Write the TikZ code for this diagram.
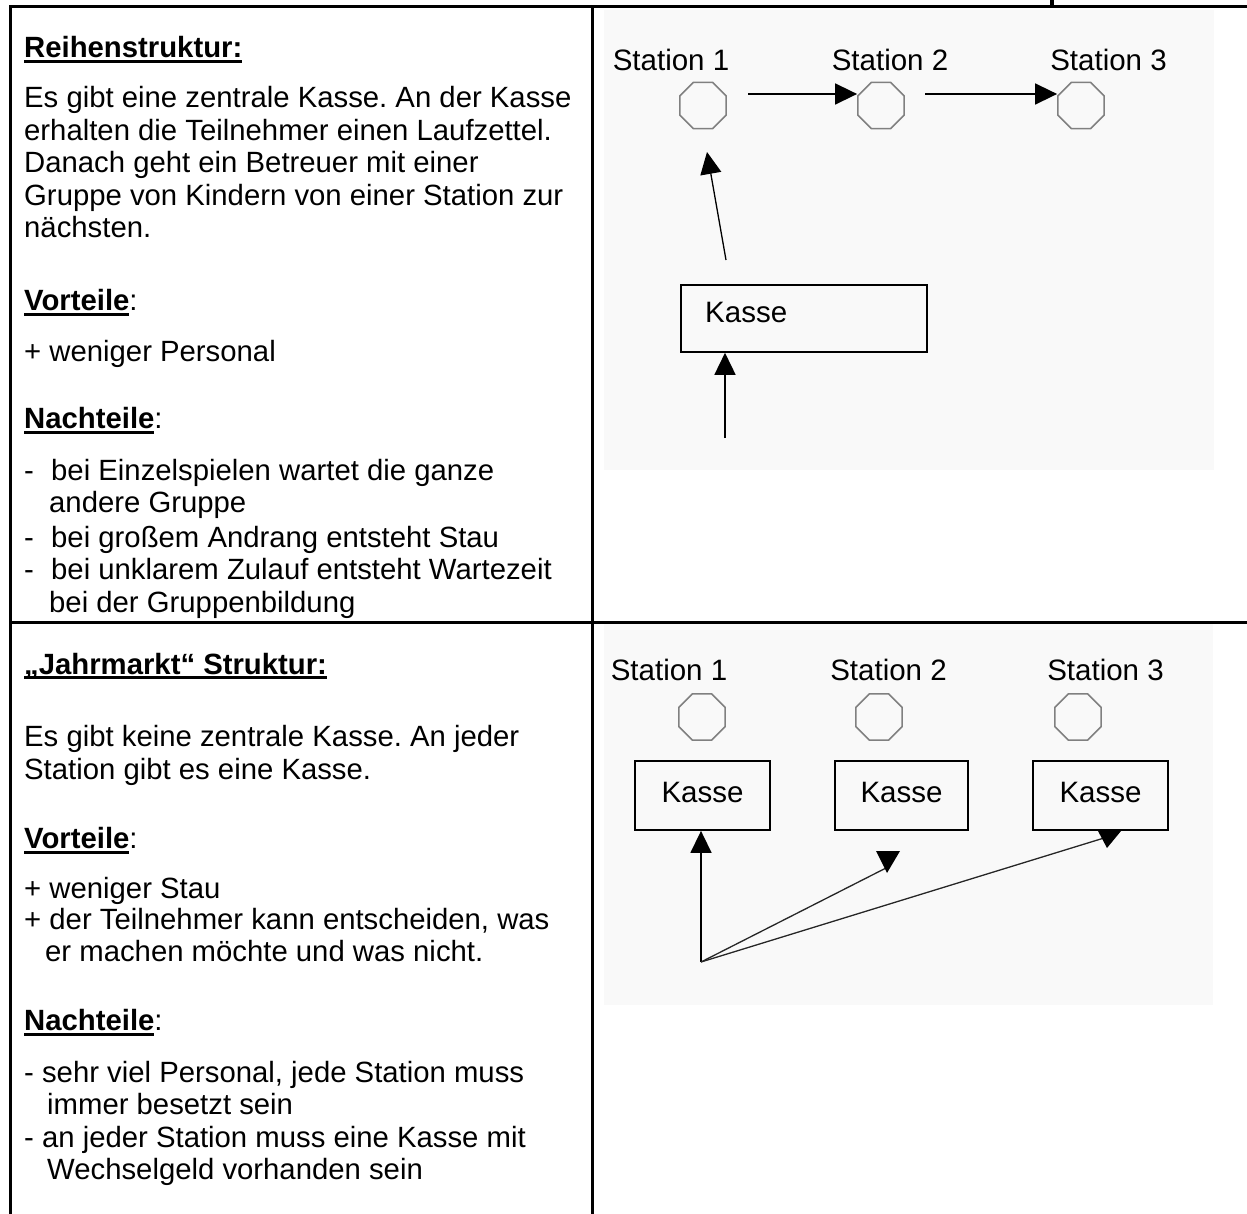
\documentclass[tikz,border=0pt]{standalone}
\usepackage{fontspec}
\setmainfont{Liberation Sans}
\usetikzlibrary{shapes.geometric,arrows.meta}
\definecolor{picbg}{RGB}{249,249,249}
\newcommand{\ulbox}[1]{\setbox0=\hbox{#1}\rlap{\rule[-5pt]{\wd0}{2.8pt}}\box0}
\frenchspacing
\begin{document}
\begin{tikzpicture}[x=1pt,y=-1pt,
  txt/.style={anchor=base west, inner sep=0pt, font=\fontsize{29.3}{33}\selectfont},
  lbl/.style={anchor=base, inner sep=0pt, font=\fontsize{29.5}{33}\selectfont},
  oct/.style={regular polygon, regular polygon sides=8, draw=black!50, line width=1.6pt, minimum size=50pt, inner sep=0pt},
  kbox/.style={draw, line width=1.8pt, inner sep=0pt},
  arr/.style={line width=1.6pt, -{Triangle[length=22pt,width=21pt]}},
  fan/.style={line width=1.3pt, black!85},
  tabline/.style={line width=3pt, line cap=rect}]
\useasboundingbox (0,0) rectangle (1247,1214);
% picture backgrounds
\fill[picbg] (604,10) rectangle (1214,470);
\fill[picbg] (604,624) rectangle (1213,1005);
% table lines
\draw[tabline] (10,1214) -- (10,7) -- (1247,7);
\draw[tabline] (592,7) -- (592,1214);
\draw[tabline] (10,622) -- (1247,622);
\fill (1050,0) rectangle (1054,5);

% ---------- top left text ----------
\node[txt] (t1) at (24,58) {\ulbox{\textbf{Reihenstruktur:}}};
\node[txt] (t2) at (24,108) {Es gibt eine zentrale Kasse. An der Kasse};
\node[txt] (t3) at (24,140.5) {erhalten die Teilnehmer einen Laufzettel.};
\node[txt] (t4) at (24,173) {Danach geht ein Betreuer mit einer};
\node[txt] (t5) at (24,205.5) {Gruppe von Kindern von einer Station zur};
\node[txt] (t6) at (24,238) {nächsten.};
\node[txt] (t7) at (24,311) {\ulbox{\textbf{Vorteile}}:};
\node[txt] (t8) at (24,362) {+ weniger Personal};
\node[txt] (t9) at (24,428.5) {\ulbox{\textbf{Nachteile}}:};
\node[txt] (t10) at (24,480.5) {\makebox[27pt][l]{-}bei Einzelspielen wartet die ganze};
\node[txt] (t11) at (49,512.5) {andere Gruppe};
\node[txt] (t12) at (24,547.5) {\makebox[27pt][l]{-}bei großem Andrang entsteht Stau};
\node[txt] (t13) at (24,579.5) {\makebox[27pt][l]{-}bei unklarem Zulauf entsteht Wartezeit};
\node[txt] (t14) at (49,612) {bei der Gruppenbildung};

% ---------- bottom left text ----------
\node[txt] (b1) at (24,674) {\ulbox{\textbf{„Jahrmarkt“ Struktur:}}};
\node[txt] (b2) at (24,746.5) {Es gibt keine zentrale Kasse. An jeder};
\node[txt] (b3) at (24,779) {Station gibt es eine Kasse.};
\node[txt] (b4) at (24,848.5) {\ulbox{\textbf{Vorteile}}:};
\node[txt] (b5) at (24,898.5) {+ weniger Stau};
\node[txt] (b6) at (24,929.5) {+ der Teilnehmer kann entscheiden, was};
\node[txt] (b7) at (45,961.5) {er machen möchte und was nicht.};
\node[txt] (b8) at (24,1030.5) {\ulbox{\textbf{Nachteile}}:};
\node[txt] (b9) at (24,1082.5) {- sehr viel Personal, jede Station muss};
\node[txt] (b10) at (47,1114.5) {immer besetzt sein};
\node[txt] (b11) at (24,1147.5) {- an jeder Station muss eine Kasse mit};
\node[txt] (b12) at (47,1179.5) {Wechselgeld vorhanden sein};

% ---------- top diagram ----------
\node[lbl] (s1) at (671,71) {Station 1};
\node[lbl] (s2) at (890,71) {Station 2};
\node[lbl] (s3) at (1108.5,71) {Station 3};
\node[oct] (o1) at (703,105.5) {};
\node[oct] (o2) at (881,105.5) {};
\node[oct] (o3) at (1081,105.5) {};
\coordinate (a1) at (748,94);
\coordinate (a2) at (925,94);
\draw[arr] (a1) -- (a1 -| o2.west);
\draw[arr] (a2) -- (a2 -| o3.west);
\node[kbox, minimum width=246pt, minimum height=67pt, anchor=north west] (k) at (680,284) {};
\node[anchor=base west, inner sep=0pt, font=\fontsize{29.5}{33}\selectfont] (kt) at (705,323) {Kasse};
\coordinate (u1) at (726,260);
\coordinate (u2) at (707,152);
\draw[arr, line width=1.3pt] (u1) -- (u2);
\coordinate (e1) at (725,438);
\draw[arr] (e1) -- (e1 |- k.south);

% ---------- bottom diagram ----------
\node[lbl] (p1) at (669,680) {Station 1};
\node[lbl] (p2) at (888.5,680) {Station 2};
\node[lbl] (p3) at (1105.5,680) {Station 3};
\node[oct] (q1) at (702,717) {};
\node[oct] (q2) at (879,717) {};
\node[oct] (q3) at (1078,717) {};
\node[kbox, minimum width=135pt, minimum height=69pt] (kb1) at (702.5,795.5) {};
\node[kbox, minimum width=133pt, minimum height=69pt] (kb2) at (901.5,795.5) {};
\node[kbox, minimum width=135pt, minimum height=69pt] (kb3) at (1100.5,795.5) {};
\node[lbl] (kt1) at (702.5,802) {Kasse};
\node[lbl] (kt2) at (901.5,802) {Kasse};
\node[lbl] (kt3) at (1100.5,802) {Kasse};
\coordinate (src) at (701,962);
\draw[arr] (src) -- (src |- kb1.south);
\coordinate (h2) at (886,868);
\coordinate (h3) at (1104,838);
\draw[fan] (src) -- (h2);
\draw[fan] (src) -- (h3);
\fill (876,851) -- (900,851) -- (887,873) -- cycle;
\fill (1098,831) -- (1121,831) -- (1107,848) -- cycle;
\end{tikzpicture}
\end{document}
